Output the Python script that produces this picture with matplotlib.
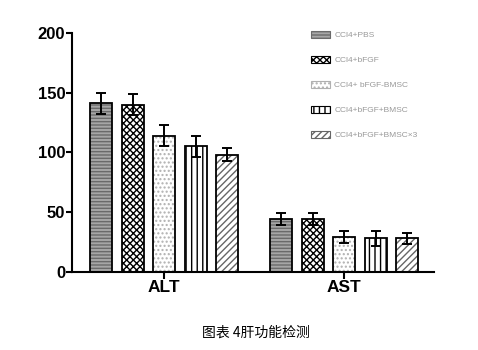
import matplotlib
matplotlib.use('Agg')
from matplotlib import pyplot as plt
from matplotlib.patches import Patch
import numpy as np

# data
groups = ['ALT', 'AST']
labels = ['CCl4+PBS', 'CCl4+bFGF', 'CCl4+ bFGF-BMSC', 'CCl4+bFGF+BMSC', 'CCl4+bFGF+BMSC×3']
means = [[141, 44], [140, 44], [114, 29], [105, 28], [98, 28]]
errs = [[8.5, 5], [8.5, 5], [9, 5], [8.5, 6], [5.5, 4.5]]

# styles per series: face, hatch, hatch colour
faces = ['#a6a6a6', 'white', 'white', 'white', 'white']
hatches = ['-----', 'xxxxx', '....', '|||', '/////']
hatch_cols = ['#6a6a6a', 'black', '#b0b0b0', 'black', '#666666']

plt.rcParams['hatch.linewidth'] = 1.0
plt.rcParams['font.family'] = ['Liberation Sans', 'DejaVu Sans']

fig = plt.figure(figsize=(4.78, 3.5), dpi=100)
ax = fig.add_axes([0.151, 0.223, 0.757, 0.683])

x = np.arange(len(groups))
width = 0.122
pitch = 0.175
handles = []
for i in range(len(labels)):
    pos = x + (i - 2) * pitch
    ax.bar(pos, means[i], width, color=faces[i], hatch=hatches[i],
           edgecolor=hatch_cols[i], linewidth=0)
    ax.bar(pos, means[i], width, fill=False, edgecolor='black', linewidth=1.3)
    ax.errorbar(pos, means[i], yerr=errs[i], fmt='none', ecolor='black',
                elinewidth=1.4, capsize=3.5, capthick=1.4)
    handles.append(Patch(facecolor=faces[i], hatch=hatches[i],
                         edgecolor=hatch_cols[i], linewidth=0.8))

ax.set_xlim(-0.511, 1.5)
ax.set_ylim(0, 200)
ax.set_yticks([0, 50, 100, 150, 200])
ax.set_xticks(x)
ax.set_xticklabels(groups, fontsize=12.5, fontweight='bold')
for t in ax.get_yticklabels():
    t.set_fontweight('bold')
    t.set_fontsize(12)
ax.spines['top'].set_visible(False)
ax.spines['right'].set_visible(False)
ax.spines['left'].set_linewidth(1.5)
ax.spines['bottom'].set_linewidth(1.5)
ax.tick_params(axis='y', width=1.5, length=4, pad=1)
ax.tick_params(axis='x', width=1.5, length=5, pad=1)

fig.legend(handles, labels, loc='upper left', bbox_to_anchor=(311 / 478, 1 - 31 / 350),
           frameon=False, fontsize=6, labelcolor='#999999', borderpad=0,
           borderaxespad=0, handlelength=2.3, handleheight=0.9,
           handletextpad=0.5, labelspacing=2.0)

fig.text(256 / 478, 1 - 333 / 350, '图表 4肝功能检测', ha='center', va='center',
         fontsize=10, family=['Noto Sans CJK SC', 'DejaVu Sans'])

plt.savefig('out.png', dpi=100)
